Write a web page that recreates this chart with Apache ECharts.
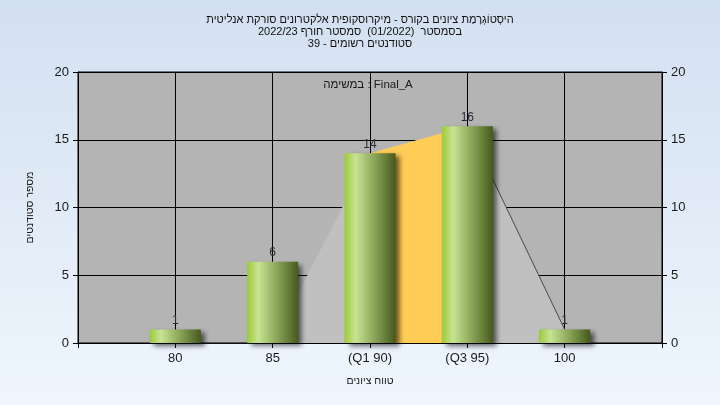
<!DOCTYPE html>
<html>
<head>
<meta charset="utf-8">
<script src="https://cdn.jsdelivr.net/npm/echarts@6/dist/echarts.min.js"></script>
<style>html,body{margin:0;padding:0;}#c{width:720px;height:405px;}</style>
</head>
<body>
<div id="c"></div>
<script>
var titleLines = [
  "היסְטוֹגְרָמַת ציונים בקורס - מיקרוסקופית אלקטרונים סורקת אנליטית",
  "בסמסטר  (01/2022)  סמסטר חורף 2022/23",
  "סטודנטים רשומים - 39"
];
var taskLabel = "במשימה : Final_A";
var categories = ["", "80", "85", "(Q1 90)", "(Q3 95)", "100", ""];
var barValues = ["-", 1, 6, 14, 16, 1, "-"];
var areaValues = ["-", 0, 0, 14, 16, 1, "-"];
var quartileArea = ["-", "-", "-", 14, 16, "-", "-"];
var edgeLine = ["-", 0, 0, "-", 16, 1, "-"];
var yTicks = { min: 0, max: 20, interval: 5 };
var xName = "טווח ציונים";
var yName = "מספר סטודנטים";

var font = "Liberation Sans, Arial, sans-serif";
var chart = echarts.init(document.getElementById('c'));
var yAxisBase = {
  type: 'value', min: yTicks.min, max: yTicks.max, interval: yTicks.interval,
  axisLine: { show: true, lineStyle: { color: '#000' } },
  axisTick: { show: true, length: 5, lineStyle: { color: '#000' } },
  axisLabel: { color: '#1a1a1a', fontSize: 13, fontFamily: font, margin: 9 },
  splitLine: { show: false }
};
chart.setOption({
  backgroundColor: { type: 'linear', x: 0, y: 0, x2: 0, y2: 1,
    colorStops: [{ offset: 0, color: '#d3e0f1' }, { offset: 1, color: '#eff6fd' }] },
  animation: false,
  title: {
    text: titleLines.join('\n'), left: 'center', top: 9,
    textStyle: { fontSize: 11, lineHeight: 12, fontWeight: 'normal', color: '#111', fontFamily: font }
  },
  graphic: [{
    type: 'text', x: 368, y: 85,
    style: { text: taskLabel, textAlign: 'center', textVerticalAlign: 'middle', fontSize: 11.5, fontFamily: font, fill: '#1a1a1a' }
  }],
  grid: { left: 78, right: 58, top: 72, bottom: 62, show: true, backgroundColor: '#b4b4b4', borderColor: '#000', borderWidth: 1 },
  xAxis: {
    type: 'category', data: categories, boundaryGap: false,
    name: xName, nameLocation: 'middle', nameGap: 33,
    nameTextStyle: { color: '#1a1a1a', fontSize: 10.5, fontFamily: font },
    axisLine: { show: true, lineStyle: { color: '#000' } },
    axisTick: { show: true, length: 5, interval: 0, lineStyle: { color: '#000' } },
    axisLabel: { color: '#1a1a1a', fontSize: 13, fontFamily: font, margin: 9, interval: 0 },
    splitLine: { show: true, interval: 0, lineStyle: { color: '#000', width: 1 } }
  },
  yAxis: [
    Object.assign({}, yAxisBase, {
      position: 'left', name: yName, nameLocation: 'middle', nameGap: 42, nameRotate: 90,
      nameTextStyle: { color: '#1a1a1a', fontSize: 10.5, fontFamily: font },
      splitLine: { show: true, lineStyle: { color: '#000', width: 1 } }
    }),
    Object.assign({}, yAxisBase, { position: 'right' })
  ],
  series: [
    { type: 'line', data: areaValues, symbol: 'none', z: 1,
      lineStyle: { width: 0 }, areaStyle: { color: '#c0c0c0', opacity: 1 } },
    { type: 'line', data: quartileArea, symbol: 'none', z: 2,
      lineStyle: { width: 0 }, areaStyle: { color: '#ffcc55', opacity: 1 } },
    { type: 'line', data: edgeLine, symbol: 'none', z: 3, connectNulls: false,
      lineStyle: { width: 1, color: '#4a4a4a' } },
    { type: 'bar', data: barValues, barWidth: 51, z: 4,
      itemStyle: {
        color: { type: 'linear', x: 0, y: 0, x2: 1, y2: 0,
          colorStops: [
            { offset: 0, color: '#9acb38' },
            { offset: 0.22, color: '#c9e394' },
            { offset: 0.55, color: '#91ab5e' },
            { offset: 1, color: '#455a1c' }
          ] },
        shadowColor: 'rgba(0,0,0,0.6)', shadowBlur: 5, shadowOffsetX: 4, shadowOffsetY: 3
      },
      label: { show: true, position: 'top', distance: 3, color: '#2a2a3a', fontSize: 12, fontFamily: font }
    }
  ]
});
</script>
</body>
</html>
